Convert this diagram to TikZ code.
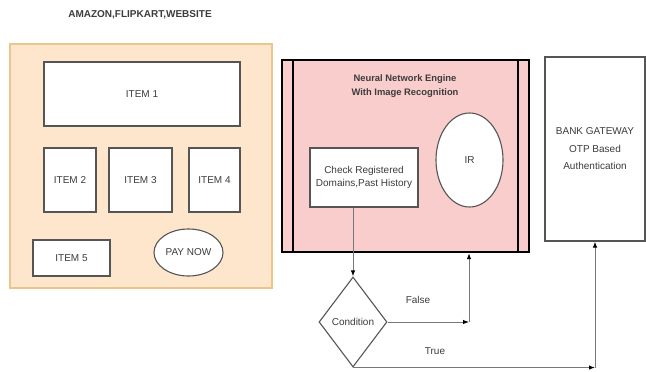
\documentclass[tikz,border=0pt]{standalone}
\usepackage{fontspec}
\setmainfont{Liberation Sans}
\usepackage{tikz}
\usetikzlibrary{arrows.meta, calc, shapes.geometric}
\definecolor{siteback}{RGB}{253,230,204}
\definecolor{siteline}{RGB}{232,198,140}
\definecolor{engineback}{RGB}{248,205,204}
\definecolor{boxline}{RGB}{85,85,85}
\definecolor{boxtext}{RGB}{60,60,60}

\begin{document}
\begin{tikzpicture}[x=1pt, y=-1pt, font=\fontsize{10}{11}\selectfont,
		itembox/.style={draw=boxline, fill=white, line width=1.1pt, text=boxtext, inner sep=0pt},
		link/.style={draw=boxline!80, line width=1pt, -{Latex[length=6pt, width=4.5pt, black]}}]
				
				\useasboundingbox (0,0) rectangle (646,372);
				\node[font=\fontsize{10}{11}\selectfont\bfseries, text=boxtext] (title) at (140,15) {AMAZON,FLIPKART,WEBSITE};
				
				% shop page
				\node[draw=siteline, fill=siteback, line width=1.2pt, minimum width=262pt, minimum height=244pt] (site) at (141,166) {};
				\node[itembox, minimum width=196pt, minimum height=64pt] (item1) at (142,94) {ITEM 1};
				\node[itembox, minimum width=52pt, minimum height=64pt] (item2) at (70,180) {ITEM 2};
				\node[itembox, minimum width=63pt, minimum height=64pt] (item3) at (140.5,180) {ITEM 3};
				\node[itembox, minimum width=51pt, minimum height=64pt] (item4) at (214.5,180) {ITEM 4};
				\node[itembox, minimum width=77pt, minimum height=36pt] (item5) at (71.5,258) {ITEM 5};
				\node[itembox, ellipse, minimum width=69pt, minimum height=47pt] (paynow) at (188.5,252.5) {PAY NOW};
				
				% engine
				\node[draw=black, fill=engineback, line width=2.2pt, minimum width=247pt, minimum height=192pt] (engine) at (405.5,156) {};
				\draw[line width=1.8pt] ([xshift=12pt]engine.north west) -- ([xshift=12pt]engine.south west);
				\draw[line width=1.8pt] ([xshift=-12pt]engine.north east) -- ([xshift=-12pt]engine.south east);
				\node[align=center, font=\fontsize{9.4}{13.5}\selectfont\bfseries, text=boxtext] (enginetitle) at (405,86) {Neural Network Engine\\With Image Recognition};
				\node[itembox, align=center, minimum width=108pt, minimum height=59pt, font=\fontsize{10}{13.5}\selectfont] (check) at (364,177.5) {Check Registered\\Domains,Past History};
				\node[itembox, ellipse, minimum width=67pt, minimum height=94pt] (ir) at (469.5,160) {IR};
				
				% bank
				\node[itembox, align=center, minimum width=100pt, minimum height=184pt, font=\fontsize{10}{17.5}\selectfont] (bank) at (595,149) {BANK GATEWAY\\OTP Based\\Authentication};
				
				% decision
				\node[itembox, diamond, aspect=0.75, minimum width=68pt, minimum height=90pt] (cond) at (353,322) {Condition};
				\coordinate (falseend) at (469,322);
				\coordinate (trueend) at (bank.south |- cond.south);
				\draw[link] (check.south -| cond.north) -- (cond.north);
				\draw[link] (cond.east) -- (falseend);
				\draw[link] (falseend) -- (falseend |- engine.south);
				\draw[link] (cond.south) -- (trueend);
				\draw[link] (trueend) -- (bank.south);
				\node[text=boxtext] (falselabel) at (418,300) {False};
				\node[text=boxtext] (truelabel) at (435,351) {True};
			\end{tikzpicture}
\end{document}
